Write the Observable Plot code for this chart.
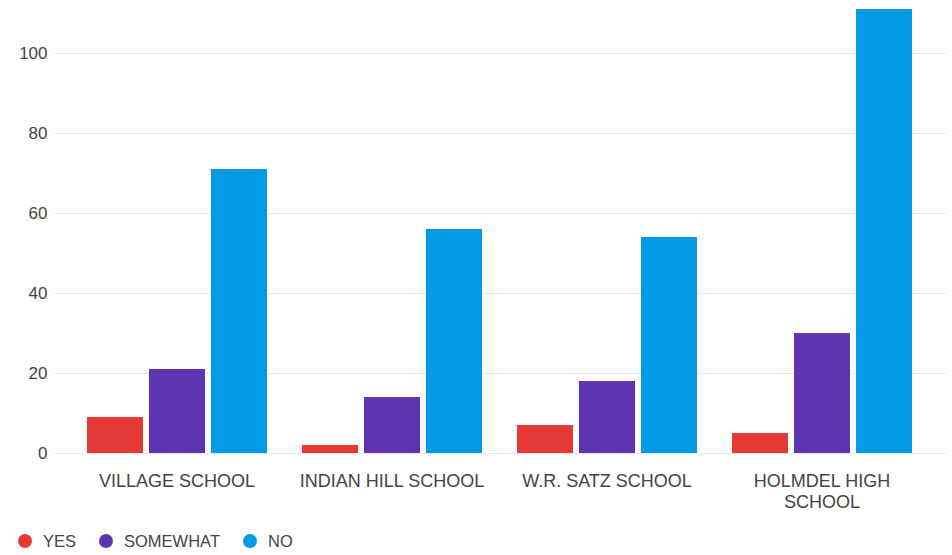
<!DOCTYPE html>
<html>
<head>
<meta charset="utf-8">
<script src="https://cdn.jsdelivr.net/npm/d3@7"></script>
<script src="https://cdn.jsdelivr.net/npm/@observablehq/plot@0.6"></script>
<style>
  html, body { margin: 0; padding: 0; background: #fff; }
  #chart { position: relative; width: 952px; height: 555px; }
  #legend { position: absolute; left: 18px; top: 532px; display: flex; align-items: center;
            font-family: "Liberation Sans", Arial, sans-serif; font-size: 16.5px; color: #444; line-height: 18px; }
  .item { display: flex; align-items: center; margin-right: 23px; }
  .dot { width: 14px; height: 14px; border-radius: 50%; margin-right: 11px; }
</style>
</head>
<body>
<div id="chart"></div>
<script>
const schools = ["VILLAGE SCHOOL", "INDIAN HILL SCHOOL", "W.R. SATZ SCHOOL", "HOLMDEL HIGH SCHOOL"];
const schoolLabels = ["VILLAGE SCHOOL", "INDIAN HILL SCHOOL", "W.R. SATZ SCHOOL", "HOLMDEL HIGH\nSCHOOL"];
const answers = ["YES", "SOMEWHAT", "NO"];
const colors = ["#e53935", "#5e35b1", "#039be5"];
const yesValues = [9, 2, 7, 5];
const somewhatValues = [21, 14, 18, 30];
const noValues = [71, 56, 54, 111];
const yTicks = [0, 20, 40, 60, 80, 100];

const series = [yesValues, somewhatValues, noValues];
const data = [];
schools.forEach((s, i) => answers.forEach((a, j) => data.push({school: s, answer: a, value: series[j][i]})));

const plot = Plot.plot({
  width: 952,
  height: 524,
  marginLeft: 67,
  marginRight: 22,
  marginTop: 9,
  marginBottom: 71,
  style: {fontFamily: "'Liberation Sans', Arial, sans-serif", color: "#444", background: "#fff"},
  fx: {domain: schools, paddingInner: 0, paddingOuter: 0, label: null, axis: null},
  x: {domain: answers, paddingInner: 0.097, paddingOuter: 0.27, axis: null},
  y: {domain: [0, 111], axis: null, label: null},
  color: {domain: answers, range: colors},
  marks: [
    Plot.ruleY(yTicks, {stroke: "#e8e8e8", strokeWidth: 1.2, insetLeft: -15, insetRight: -17}),
    Plot.barY(data, {fx: "school", x: "answer", y: "value", fill: "answer"}),
    Plot.axisY({ticks: yTicks, tickSize: 0, tickPadding: 22, fontSize: 17, anchor: "left", fill: "#444", label: null}),
    Plot.axisFx({anchor: "bottom", tickSize: 0, tickPadding: 19, fontSize: 18, lineHeight: 1.15, fill: "#444",
                 tickFormat: (d) => schoolLabels[schools.indexOf(d)], label: null})
  ]
});
document.getElementById("chart").appendChild(plot);

const legend = document.createElement("div");
legend.id = "legend";
answers.forEach((a, i) => {
  const item = document.createElement("div");
  item.className = "item";
  const dot = document.createElement("span");
  dot.className = "dot";
  dot.style.background = colors[i];
  const label = document.createElement("span");
  label.textContent = a;
  item.appendChild(dot);
  item.appendChild(label);
  legend.appendChild(item);
});
document.getElementById("chart").appendChild(legend);
</script>
</body>
</html>
